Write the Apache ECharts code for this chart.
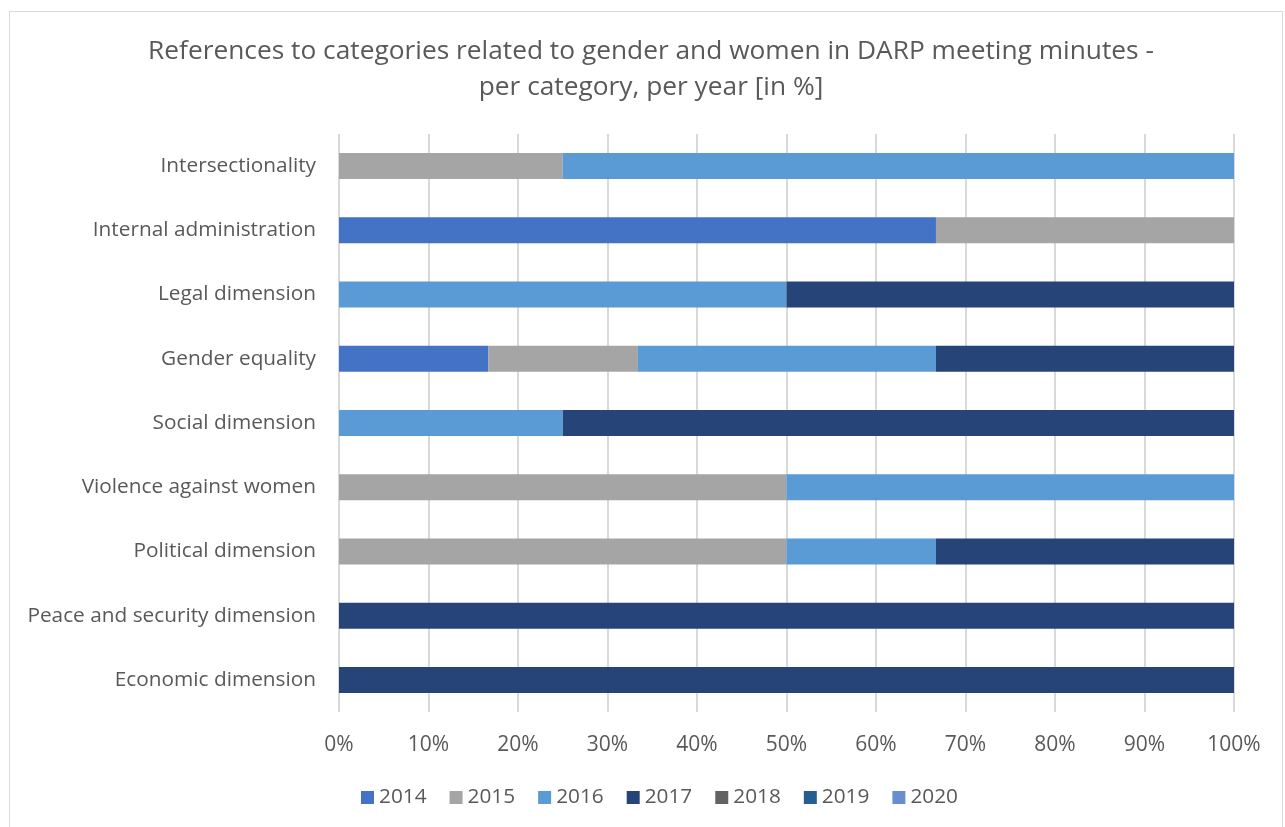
<!DOCTYPE html>
<html>
<head>
<meta charset="utf-8">
<script src="https://cdn.jsdelivr.net/npm/echarts@6/dist/echarts.min.js"></script>
<style>
  html, body { margin: 0; padding: 0; background: #fff; }
  #frame { position: absolute; left: 9px; top: 11px; width: 1274px; height: 820px; border: 1px solid #d9d9d9; box-sizing: border-box; }
  #chart { position: absolute; left: 0; top: 0; width: 1285px; height: 827px; }
</style>
</head>
<body>
<div id="frame"></div>
<div id="chart"></div>
<script>
// categories, top to bottom as in the picture
const categories = [
    'Intersectionality',
    'Internal administration',
    'Legal dimension',
    'Gender equality',
    'Social dimension',
    'Violence against women',
    'Political dimension',
    'Peace and security dimension',
    'Economic dimension'
];

const years = ['2014', '2015', '2016', '2017', '2018', '2019', '2020'];
const yearColors = ['#4472C4', '#A5A5A5', '#5B9BD5', '#264478', '#636363', '#255E91', '#698ED0'];

// share per year [%]
const y2014 = [0, 66.7, 0, 16.7, 0, 0, 0, 0, 0];
const y2015 = [25, 33.3, 0, 16.7, 0, 50, 50, 0, 0];
const y2016 = [75, 0, 50, 33.3, 25, 50, 16.7, 0, 0];
const y2017 = [0, 0, 50, 33.3, 75, 0, 33.3, 100, 100];
const y2018 = [0, 0, 0, 0, 0, 0, 0, 0, 0];
const y2019 = [0, 0, 0, 0, 0, 0, 0, 0, 0];
const y2020 = [0, 0, 0, 0, 0, 0, 0, 0, 0];
const yearValues = [y2014, y2015, y2016, y2017, y2018, y2019, y2020];

const xTicks = [0, 10, 20, 30, 40, 50, 60, 70, 80, 90, 100];

const fontFamily = '"Open Sans", "Noto Sans", sans-serif';
const chart = echarts.init(document.getElementById('chart'), null, { renderer: 'canvas' });

const option = {
    backgroundColor: 'transparent',
    animation: false,
    title: {
        text: 'References to categories related to gender and women in DARP meeting minutes -\nper category, per year [in %]',
        left: 646,
        top: 29,
        textAlign: 'center',
        textStyle: { color: '#595959', fontSize: 26.3, fontWeight: 'normal', fontFamily: fontFamily, lineHeight: 36 }
    },
    legend: {
        data: years,
        bottom: 14,
        left: 356,
        itemWidth: 13,
        itemHeight: 13,
        itemGap: 23,
        icon: 'rect',
        textStyle: { color: '#595959', fontSize: 20.8, fontFamily: fontFamily }
    },
    grid: { left: 339, right: 51, top: 134, bottom: 115 },
    xAxis: {
        type: 'value',
        min: 0,
        max: 100,
        interval: 10,
        axisLine: { show: false },
        axisTick: { show: false },
        splitLine: { lineStyle: { color: '#d9d9d9', width: 2 } },
        axisLabel: {
            color: '#595959',
            fontSize: 21,
            fontFamily: fontFamily,
            margin: 23,
            formatter: (v) => xTicks.includes(v) ? v + '%' : ''
        }
    },
    yAxis: {
        type: 'category',
        data: categories,
        inverse: true,
        axisLine: { show: false },
        axisTick: { show: false },
        axisLabel: { color: '#595959', fontSize: 20.8, fontFamily: fontFamily, margin: 23 }
    },
    series: years.map((y, i) => ({
        name: y,
        type: 'bar',
        stack: 'total',
        barWidth: 26,
        itemStyle: { color: yearColors[i] },
        data: yearValues[i]
    }))
};

chart.setOption(option);
</script>
</body>
</html>
